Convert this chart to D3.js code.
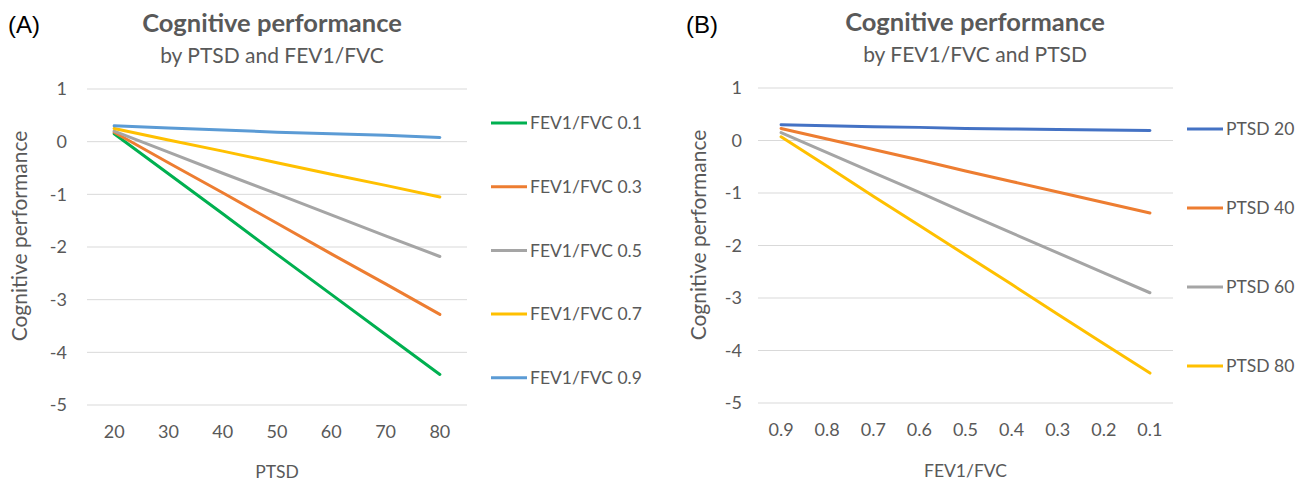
<!DOCTYPE html>
<html>
<head>
<meta charset="utf-8">
<script src="https://cdn.jsdelivr.net/npm/d3@7"></script>
<style>
  html, body { margin: 0; padding: 0; background: #fff; }
  svg { display: block; }
  text { font-family: Lato, "Open Sans", sans-serif; fill: #595959; }
</style>
</head>
<body>
<svg id="chart" width="1306" height="481"></svg>
<script>
// ---------- Data ----------
// Panel A: Cognitive performance by PTSD (x) for levels of FEV1/FVC
const ptsdCategories = ["20", "30", "40", "50", "60", "70", "80"];
const seriesA_names = ["FEV1/FVC 0.1", "FEV1/FVC 0.3", "FEV1/FVC 0.5", "FEV1/FVC 0.7", "FEV1/FVC 0.9"];
const fev01 = [0.15, -0.61, -1.37, -2.14, -2.90, -3.66, -4.42];
const fev03 = [0.18, -0.40, -0.97, -1.55, -2.13, -2.70, -3.28];
const fev05 = [0.20, -0.20, -0.60, -0.99, -1.39, -1.79, -2.18];
const fev07 = [0.25, 0.03, -0.18, -0.40, -0.62, -0.83, -1.05];
const fev09 = [0.30, 0.26, 0.22, 0.18, 0.15, 0.12, 0.08];

// Panel B: Cognitive performance by FEV1/FVC (x) for levels of PTSD
const fevCategories = ["0.9", "0.8", "0.7", "0.6", "0.5", "0.4", "0.3", "0.2", "0.1"];
const seriesB_names = ["PTSD 20", "PTSD 40", "PTSD 60", "PTSD 80"];
const ptsd20 = [0.30, 0.28, 0.26, 0.25, 0.23, 0.22, 0.21, 0.20, 0.19];
const ptsd40 = [0.23, 0.03, -0.17, -0.37, -0.58, -0.78, -0.98, -1.18, -1.38];
const ptsd60 = [0.15, -0.23, -0.61, -0.99, -1.38, -1.76, -2.14, -2.52, -2.90];
const ptsd80 = [0.07, -0.49, -1.06, -1.62, -2.18, -2.74, -3.31, -3.87, -4.43];

const yTicks = [1, 0, -1, -2, -3, -4, -5];

// ---------- Styles ----------
const colorsA = ["#00B050", "#ED7D31", "#A5A5A5", "#FFC000", "#5B9BD5"];
const colorsB = ["#4472C4", "#ED7D31", "#A5A5A5", "#FFC000"];

const svg = d3.select("#chart");

function drawPanel(cfg) {
  const g = svg.append("g");
  const x = d3.scalePoint().domain(cfg.categories).range([cfg.x0, cfg.x1]).padding(0.5);
  const y = d3.scaleLinear().domain([-5, 1]).range([cfg.yBottom, cfg.yTop]);

  // gridlines
  g.append("g").selectAll("line").data(yTicks).join("line")
    .attr("x1", cfg.x0).attr("x2", cfg.x1)
    .attr("y1", d => y(d)).attr("y2", d => y(d))
    .attr("stroke", "#D9D9D9").attr("stroke-width", 1);

  // y tick labels
  g.append("g").selectAll("text").data(yTicks).join("text")
    .attr("x", cfg.yLabelX).attr("y", d => y(d))
    .attr("dy", "0.35em").attr("text-anchor", "end")
    .style("font-size", "18px")
    .text(d => d);

  // x tick labels
  g.append("g").selectAll("text").data(cfg.categories).join("text")
    .attr("x", d => x(d)).attr("y", cfg.xLabelY)
    .attr("text-anchor", "middle")
    .style("font-size", "18px")
    .text(d => d);

  // lines
  const line = d3.line().x((d, i) => x(cfg.categories[i])).y(d => y(d));
  g.append("g").selectAll("path").data(cfg.series).join("path")
    .attr("d", d => line(d))
    .attr("fill", "none")
    .attr("stroke", (d, i) => cfg.colors[i])
    .attr("stroke-width", 3)
    .attr("stroke-linecap", "round")
    .attr("stroke-linejoin", "round");

  // legend
  const lg = g.append("g").selectAll("g").data(cfg.names).join("g")
    .attr("transform", (d, i) => `translate(${cfg.legX},${cfg.legY0 + i * cfg.legStep})`);
  lg.append("line").attr("x1", 0).attr("x2", 36).attr("y1", 0).attr("y2", 0)
    .attr("stroke", (d, i) => cfg.colors[i]).attr("stroke-width", 3);
  lg.append("text").attr("x", 39).attr("y", 0).attr("dy", "0.35em")
    .style("font-size", "17.5px")
    .text(d => d);

  // titles
  const cx = cfg.titleX;
  g.append("text").attr("x", cx).attr("y", cfg.titleY).attr("text-anchor", "middle")
    .style("font-size", "25.5px").style("font-weight", "bold")
    .text("Cognitive performance");
  g.append("text").attr("x", cx).attr("y", cfg.titleY + 31).attr("text-anchor", "middle")
    .style("font-size", "21px")
    .text(cfg.subtitle);

  // panel label
  g.append("text").attr("x", cfg.panelX).attr("y", 33)
    .style("font-family", "'Liberation Sans', Arial, sans-serif")
    .style("font-size", "24px").style("fill", "#000")
    .text(cfg.panelLabel);

  // axis titles
  g.append("text").attr("x", (cfg.x0 + cfg.x1) / 2).attr("y", cfg.xTitleY)
    .attr("text-anchor", "middle").style("font-size", "17.5px")
    .text(cfg.xTitle);
  g.append("text")
    .attr("transform", `translate(${cfg.yTitleX},${cfg.yTitleCY}) rotate(-90)`)
    .attr("text-anchor", "middle").style("font-size", "21px")
    .text("Cognitive performance");
}

drawPanel({
  categories: ptsdCategories,
  series: [fev01, fev03, fev05, fev07, fev09],
  names: seriesA_names,
  colors: colorsA,
  x0: 87, x1: 467, yTop: 89, yBottom: 405,
  yLabelX: 67, xLabelY: 438,
  legX: 491, legY0: 123, legStep: 63.7,
  titleX: 272, titleY: 32, subtitle: "by PTSD and FEV1/FVC",
  panelX: 8, panelLabel: "(A)",
  xTitle: "PTSD", xTitleY: 478,
  yTitleX: 27, yTitleCY: 236
});

drawPanel({
  categories: fevCategories,
  series: [ptsd20, ptsd40, ptsd60, ptsd80],
  names: seriesB_names,
  colors: colorsB,
  x0: 758, x1: 1173, yTop: 88, yBottom: 403,
  yLabelX: 742, xLabelY: 436,
  legX: 1187, legY0: 129, legStep: 79,
  titleX: 975, titleY: 31, subtitle: "by FEV1/FVC and PTSD",
  panelX: 686, panelLabel: "(B)",
  xTitle: "FEV1/FVC", xTitleY: 477,
  yTitleX: 706, yTitleCY: 235
});
</script>
</body>
</html>
